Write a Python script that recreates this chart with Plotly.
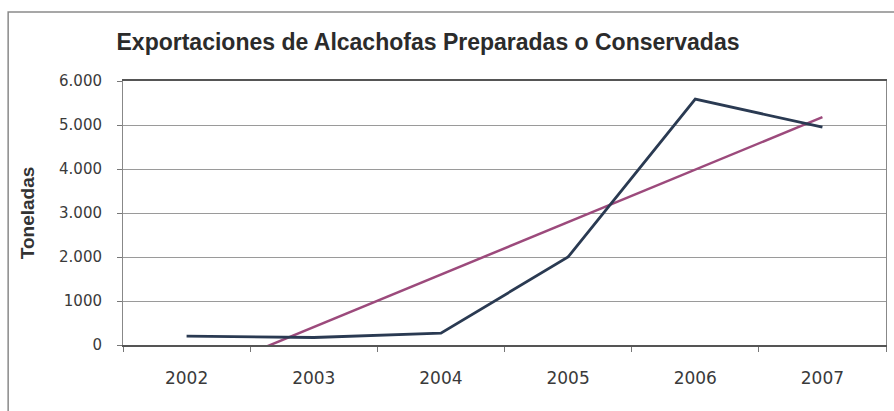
import numpy as np
import plotly.graph_objects as go

# Daten
anios = ['2002', '2003', '2004', '2005', '2006', '2007']
toneladas = [200, 170, 270, 2000, 5590, 4950]

y_tickvals = [0, 1000, 2000, 3000, 4000, 5000, 6000]
y_ticktext = ['0', '1000', '2.000', '3.000', '4.000', '5.000', '6.000']

# lineare Trendlinie wie in Excel
idx = np.arange(len(anios))
pendiente, corte = np.polyfit(idx, toneladas, 1)
tendencia = pendiente * idx + corte

fig = go.Figure()
fig.add_trace(go.Scatter(x=anios, y=tendencia, mode='lines',
                         line=dict(color='#9c4a7c', width=2.5), hoverinfo='skip'))
fig.add_trace(go.Scatter(x=anios, y=toneladas, mode='lines',
                         line=dict(color='#2a3a52', width=2.8)))

fig.update_layout(
    width=894, height=411,
    margin=dict(l=123, r=8, t=81, b=66, autoexpand=False),
    paper_bgcolor='white', plot_bgcolor='white',
    showlegend=False,
    font=dict(family='DejaVu Sans, sans-serif', color='#3a3a3a'),
    title=dict(text='<b>Exportaciones de Alcachofas Preparadas o Conservadas</b>',
               x=428 / 894, xanchor='center', xref='container',
               y=1 - 42 / 411, yanchor='middle', yref='container',
               font=dict(family='Liberation Sans, Arial, sans-serif', size=23, color='#2b2b2b')),
)

fig.update_xaxes(type='category', range=[-0.5, 5.5], tickson='boundaries',
                 ticks='outside', ticklen=5, tickcolor='#777777', ticklabelstandoff=17,
                 showgrid=False, showline=True, linecolor='#555555', linewidth=1.5,
                 mirror=True, tickfont=dict(size=17), zeroline=False, automargin=False)
fig.update_yaxes(range=[0, 6000], tickvals=y_tickvals, ticktext=y_ticktext,
                 ticks='outside', ticklen=5, tickcolor='#777777', ticklabelstandoff=12,
                 showgrid=True, gridcolor='#9a9a9a', gridwidth=1,
                 showline=True, linecolor='#888888', linewidth=1, mirror=True,
                 zeroline=False, tickfont=dict(size=15), automargin=False,
                 title=dict(text='<b>Toneladas</b>',
                            font=dict(family='Liberation Sans, Arial, sans-serif', size=19, color='#333333'),
                            standoff=19))

# Rahmen des Diagrammbereichs
fig.add_shape(type='rect', xref='paper', yref='paper',
              x0=-115 / 764, x1=1.2, y0=-0.5, y1=1 + 69 / 264,
              line=dict(color='#8a8a8a', width=1.5), layer='below')

# Seitenrand des Browsers entfernen, damit die Figur genau ins Fenster passt
fig.write_html('out.html', config={'displayModeBar': False},
               post_script="document.body.style.margin='0';")
